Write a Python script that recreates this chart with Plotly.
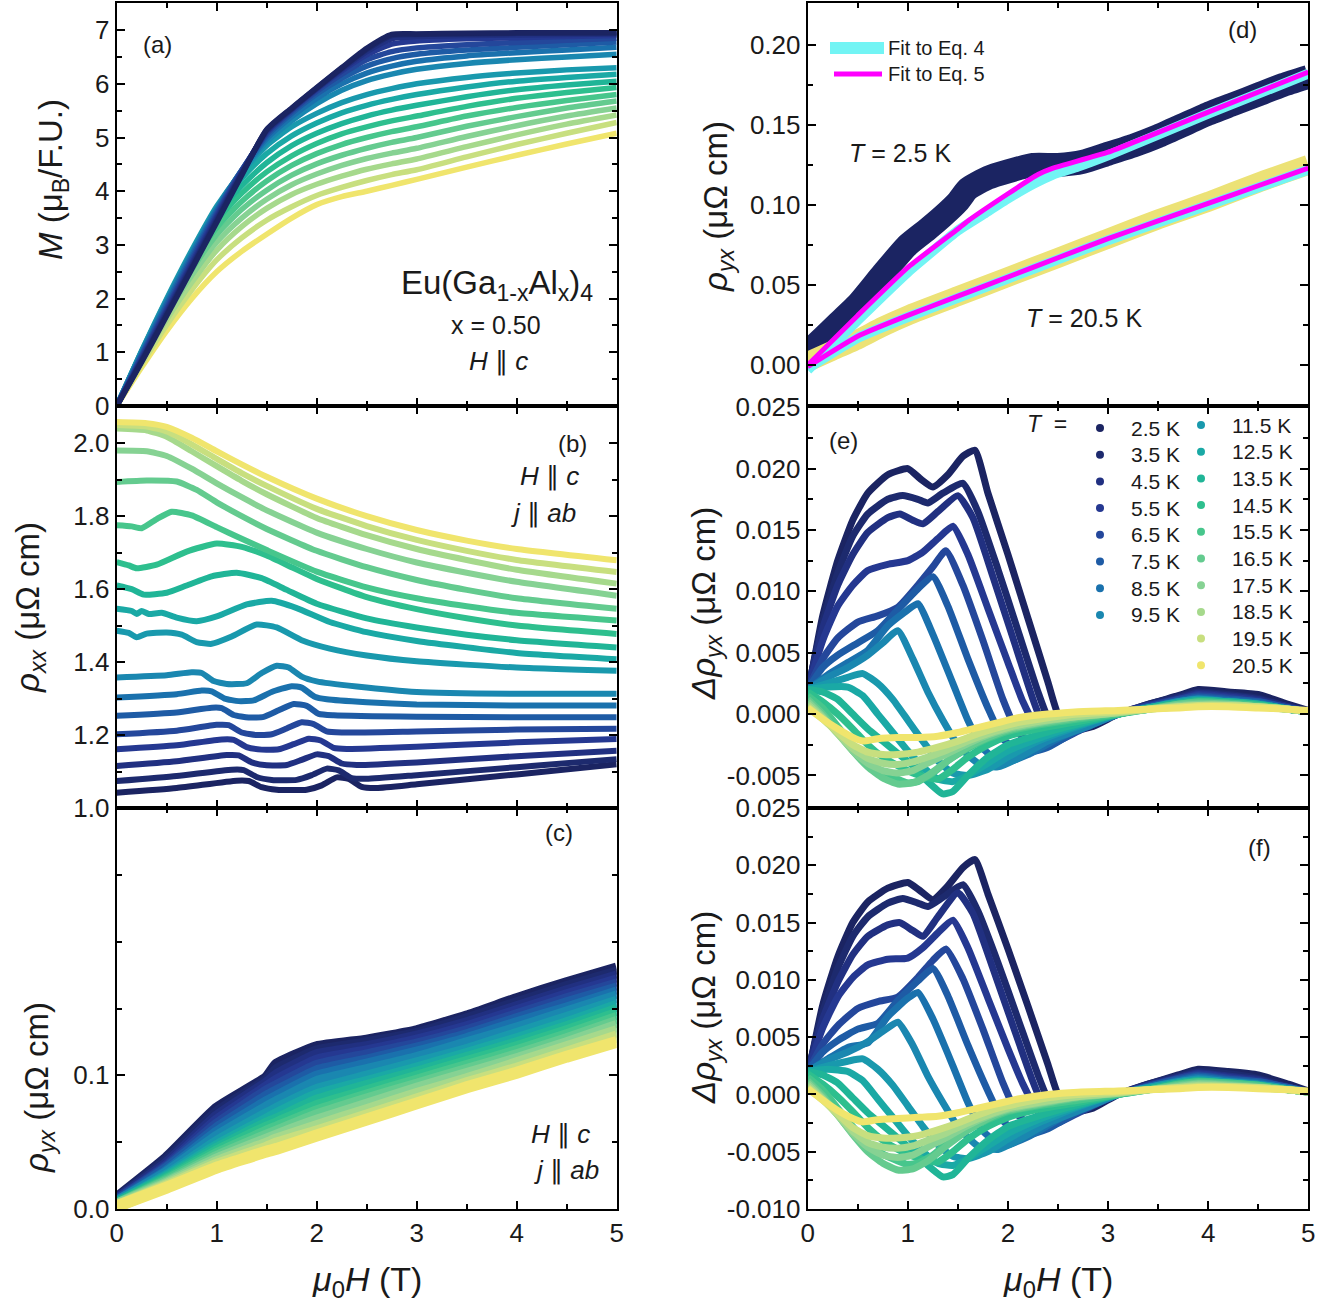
import plotly.graph_objects as go

W, H = 1337, 1304
FONT = "Arial, 'Liberation Sans', sans-serif"

TEMPS = [2.5, 3.5, 4.5, 5.5, 6.5, 7.5, 8.5, 9.5, 11.5, 12.5, 13.5, 14.5, 15.5, 16.5, 17.5, 18.5, 19.5, 20.5]
COLORS = ["#1b2462", "#1d2a6e", "#213081", "#253891", "#24479b", "#1e5ba5", "#1a71ad", "#1a87b0",
          "#1999ad", "#1aa9a5", "#20b597", "#2ebf8e", "#47c68c", "#64cb8f", "#86d293", "#a6d98c",
          "#c8df7f", "#f0e56d"]

# ---------------- (a) magnetization ----------------
H_M = [0, 0.25, 0.5, 0.75, 1.0, 1.25, 1.5, 1.75, 2.0, 2.25, 2.5, 2.75, 3.0, 3.5, 4.0, 4.5, 5.0]
M_DATA = [
    [0, 0.82, 1.68, 2.55, 3.42, 4.30, 5.15, 5.55, 5.93, 6.30, 6.66, 6.92, 6.93, 6.94, 6.95, 6.95, 6.95],
    [0, 0.84, 1.71, 2.58, 3.45, 4.32, 5.14, 5.54, 5.92, 6.29, 6.64, 6.90, 6.92, 6.93, 6.94, 6.95, 6.95],
    [0, 0.86, 1.74, 2.62, 3.49, 4.34, 5.12, 5.53, 5.91, 6.27, 6.60, 6.84, 6.88, 6.90, 6.91, 6.92, 6.93],
    [0, 0.89, 1.78, 2.66, 3.53, 4.36, 5.10, 5.52, 5.90, 6.24, 6.54, 6.74, 6.80, 6.84, 6.86, 6.88, 6.90],
    [0, 0.92, 1.82, 2.71, 3.57, 4.38, 5.07, 5.49, 5.86, 6.18, 6.45, 6.60, 6.67, 6.73, 6.77, 6.81, 6.85],
    [0, 0.95, 1.87, 2.76, 3.61, 4.39, 5.03, 5.45, 5.81, 6.10, 6.33, 6.47, 6.55, 6.63, 6.68, 6.73, 6.78],
    [0, 0.98, 1.92, 2.81, 3.65, 4.39, 4.98, 5.39, 5.73, 6.00, 6.20, 6.33, 6.42, 6.52, 6.58, 6.63, 6.68],
    [0, 1.01, 1.96, 2.85, 3.68, 4.38, 4.92, 5.31, 5.63, 5.88, 6.06, 6.18, 6.27, 6.38, 6.45, 6.50, 6.55],
    [0, 1.03, 2.00, 2.90, 3.72, 4.35, 4.85, 5.20, 5.45, 5.65, 5.80, 5.91, 6.00, 6.12, 6.20, 6.26, 6.30],
    [0, 1.02, 1.98, 2.86, 3.66, 4.24, 4.70, 5.03, 5.27, 5.46, 5.60, 5.71, 5.80, 5.94, 6.05, 6.12, 6.18],
    [0, 1.00, 1.94, 2.80, 3.56, 4.10, 4.53, 4.85, 5.08, 5.26, 5.40, 5.51, 5.60, 5.76, 5.89, 5.98, 6.05],
    [0, 0.98, 1.90, 2.73, 3.45, 3.96, 4.36, 4.66, 4.89, 5.07, 5.20, 5.31, 5.40, 5.58, 5.73, 5.84, 5.93],
    [0, 0.95, 1.84, 2.64, 3.32, 3.81, 4.19, 4.48, 4.70, 4.87, 5.00, 5.11, 5.20, 5.40, 5.56, 5.69, 5.80],
    [0, 0.92, 1.78, 2.54, 3.19, 3.66, 4.02, 4.30, 4.51, 4.67, 4.80, 4.91, 5.00, 5.21, 5.39, 5.55, 5.68],
    [0, 0.88, 1.70, 2.43, 3.05, 3.50, 3.85, 4.12, 4.32, 4.48, 4.61, 4.71, 4.80, 5.02, 5.22, 5.40, 5.55],
    [0, 0.83, 1.61, 2.30, 2.90, 3.34, 3.68, 3.94, 4.13, 4.28, 4.41, 4.51, 4.60, 4.83, 5.05, 5.25, 5.42],
    [0, 0.78, 1.51, 2.16, 2.72, 3.13, 3.46, 3.71, 3.92, 4.07, 4.20, 4.31, 4.40, 4.64, 4.87, 5.08, 5.28],
    [0, 0.72, 1.40, 2.00, 2.50, 2.88, 3.20, 3.50, 3.75, 3.90, 4.00, 4.11, 4.22, 4.45, 4.67, 4.88, 5.08],
]

# ---------------- (b) rho_xx ----------------
B_H = [
    [0, 0.6, 1.2, 1.32, 1.45, 1.6, 1.9, 2.05, 2.2, 2.32, 2.45, 2.6, 3.0, 4.0, 5.0],
    [0, 0.6, 1.15, 1.27, 1.4, 1.55, 1.8, 1.95, 2.1, 2.22, 2.35, 2.5, 3.0, 4.0, 5.0],
    [0, 0.6, 1.1, 1.22, 1.35, 1.5, 1.7, 1.85, 2.0, 2.12, 2.25, 2.4, 3.0, 4.0, 5.0],
    [0, 0.6, 1.05, 1.17, 1.3, 1.45, 1.62, 1.77, 1.92, 2.04, 2.17, 2.3, 3.0, 4.0, 5.0],
    [0, 0.6, 1.0, 1.12, 1.25, 1.4, 1.55, 1.7, 1.85, 1.97, 2.1, 2.25, 3.0, 4.0, 5.0],
    [0, 0.6, 0.95, 1.05, 1.17, 1.32, 1.47, 1.62, 1.77, 1.9, 2.02, 2.17, 3.0, 4.0, 5.0],
    [0, 0.6, 0.85, 0.95, 1.08, 1.22, 1.37, 1.55, 1.75, 1.85, 1.98, 2.1, 2.5, 3.0, 4.0, 5.0],
    [0, 0.5, 0.75, 0.85, 0.97, 1.1, 1.3, 1.45, 1.6, 1.72, 1.85, 2.0, 2.4, 3.0, 4.0, 5.0],
    [0, 0.12, 0.2, 0.3, 0.5, 0.65, 0.8, 0.95, 1.15, 1.4, 1.6, 1.85, 2.13, 2.5, 3.0, 4.0, 5.0],
    [0, 0.15, 0.2, 0.25, 0.32, 0.45, 0.6, 0.8, 1.0, 1.3, 1.55, 1.8, 2.13, 2.5, 3.0, 4.0, 5.0],
    [0, 0.15, 0.27, 0.5, 0.7, 0.95, 1.2, 1.45, 1.7, 2.0, 2.5, 3.0, 3.5, 4.0, 5.0],
    [0, 0.12, 0.2, 0.4, 0.7, 1.0, 1.25, 1.5, 1.75, 2.0, 2.5, 3.0, 3.5, 4.0, 5.0],
    [0, 0.15, 0.25, 0.4, 0.55, 0.75, 1.0, 1.25, 1.5, 2.0, 2.5, 3.0, 3.5, 4.0, 5.0],
    [0, 0.3, 0.6, 0.8, 1.0, 1.25, 1.5, 2.0, 2.5, 3.0, 3.5, 4.0, 5.0],
    [0, 0.3, 0.5, 0.75, 1.0, 1.25, 1.5, 2.0, 2.5, 3.0, 3.5, 4.0, 5.0],
    [0, 0.3, 0.5, 0.75, 1.0, 1.25, 1.5, 2.0, 2.5, 3.0, 3.5, 4.0, 5.0],
    [0, 0.3, 0.5, 0.75, 1.0, 1.25, 1.5, 2.0, 2.5, 3.0, 3.5, 4.0, 5.0],
    [0, 0.3, 0.5, 0.75, 1.0, 1.25, 1.5, 2.0, 2.5, 3.0, 3.5, 4.0, 5.0],
]
B_R = [
    [1.042, 1.055, 1.075, 1.074, 1.057, 1.050, 1.050, 1.062, 1.084, 1.080, 1.058, 1.055, 1.065, 1.092, 1.120],
    [1.074, 1.088, 1.105, 1.104, 1.085, 1.077, 1.077, 1.090, 1.108, 1.103, 1.082, 1.080, 1.090, 1.112, 1.134],
    [1.115, 1.128, 1.145, 1.144, 1.125, 1.117, 1.118, 1.132, 1.147, 1.142, 1.122, 1.118, 1.125, 1.142, 1.157],
    [1.161, 1.172, 1.188, 1.187, 1.167, 1.160, 1.161, 1.175, 1.190, 1.185, 1.165, 1.162, 1.168, 1.180, 1.189],
    [1.202, 1.212, 1.228, 1.227, 1.207, 1.200, 1.202, 1.218, 1.235, 1.230, 1.210, 1.207, 1.210, 1.215, 1.217],
    [1.253, 1.262, 1.275, 1.274, 1.255, 1.248, 1.250, 1.268, 1.285, 1.280, 1.258, 1.254, 1.250, 1.249, 1.249],
    [1.303, 1.312, 1.322, 1.320, 1.300, 1.293, 1.295, 1.318, 1.334, 1.330, 1.305, 1.298, 1.290, 1.284, 1.281, 1.281],
    [1.358, 1.364, 1.372, 1.370, 1.348, 1.340, 1.342, 1.370, 1.390, 1.385, 1.360, 1.347, 1.333, 1.318, 1.313, 1.313],
    [1.486, 1.480, 1.468, 1.478, 1.481, 1.475, 1.455, 1.450, 1.470, 1.503, 1.495, 1.460, 1.437, 1.418, 1.402, 1.385, 1.376],
    [1.546, 1.540, 1.532, 1.540, 1.532, 1.535, 1.522, 1.512, 1.525, 1.558, 1.568, 1.548, 1.510, 1.482, 1.458, 1.425, 1.408],
    [1.610, 1.600, 1.585, 1.590, 1.610, 1.635, 1.645, 1.630, 1.598, 1.560, 1.520, 1.495, 1.475, 1.460, 1.440],
    [1.674, 1.665, 1.657, 1.667, 1.703, 1.725, 1.716, 1.692, 1.660, 1.628, 1.578, 1.545, 1.520, 1.500, 1.477],
    [1.775, 1.772, 1.767, 1.792, 1.812, 1.802, 1.770, 1.738, 1.707, 1.648, 1.605, 1.575, 1.553, 1.535, 1.514],
    [1.894, 1.898, 1.895, 1.872, 1.838, 1.800, 1.765, 1.705, 1.660, 1.625, 1.598, 1.575, 1.546],
    [1.980, 1.978, 1.965, 1.930, 1.890, 1.852, 1.816, 1.755, 1.710, 1.673, 1.645, 1.620, 1.582],
    [2.040, 2.035, 2.018, 1.978, 1.937, 1.897, 1.860, 1.795, 1.748, 1.710, 1.680, 1.653, 1.615],
    [2.050, 2.046, 2.032, 1.997, 1.957, 1.918, 1.883, 1.820, 1.773, 1.735, 1.705, 1.680, 1.647],
    [2.058, 2.055, 2.045, 2.015, 1.978, 1.942, 1.908, 1.848, 1.800, 1.762, 1.733, 1.710, 1.679],
]

# ---------------- (c) rho_yx, all temperatures ----------------
H_C = [0, 0.5, 1.0, 1.5, 1.6, 2.0, 2.5, 3.0, 3.5, 4.0, 4.5, 5.0]
C_DATA = [
    [0.008, 0.038, 0.075, 0.098, 0.108, 0.121, 0.126, 0.133, 0.144, 0.157, 0.169, 0.180],
    [0.007, 0.036, 0.072, 0.096, 0.104, 0.118, 0.124, 0.131, 0.142, 0.154, 0.166, 0.177],
    [0.007, 0.034, 0.069, 0.094, 0.100, 0.115, 0.121, 0.129, 0.139, 0.151, 0.163, 0.174],
    [0.006, 0.032, 0.066, 0.091, 0.096, 0.111, 0.118, 0.126, 0.136, 0.148, 0.160, 0.171],
    [0.006, 0.031, 0.063, 0.088, 0.092, 0.107, 0.115, 0.123, 0.133, 0.145, 0.157, 0.168],
    [0.005, 0.030, 0.060, 0.084, 0.088, 0.103, 0.111, 0.120, 0.130, 0.142, 0.154, 0.165],
    [0.005, 0.028, 0.057, 0.080, 0.084, 0.099, 0.108, 0.117, 0.127, 0.139, 0.150, 0.162],
    [0.005, 0.027, 0.054, 0.076, 0.080, 0.095, 0.104, 0.113, 0.124, 0.135, 0.147, 0.159],
    [0.004, 0.025, 0.050, 0.071, 0.075, 0.089, 0.099, 0.109, 0.119, 0.131, 0.143, 0.155],
    [0.004, 0.024, 0.047, 0.067, 0.071, 0.085, 0.095, 0.105, 0.116, 0.127, 0.139, 0.152],
    [0.004, 0.023, 0.045, 0.064, 0.067, 0.081, 0.092, 0.102, 0.113, 0.124, 0.136, 0.149],
    [0.003, 0.022, 0.043, 0.061, 0.064, 0.077, 0.088, 0.099, 0.110, 0.121, 0.133, 0.146],
    [0.003, 0.021, 0.041, 0.058, 0.061, 0.073, 0.085, 0.096, 0.107, 0.118, 0.130, 0.143],
    [0.003, 0.020, 0.039, 0.055, 0.058, 0.070, 0.082, 0.093, 0.104, 0.115, 0.127, 0.140],
    [0.003, 0.019, 0.037, 0.052, 0.055, 0.066, 0.078, 0.090, 0.101, 0.112, 0.124, 0.137],
    [0.002, 0.018, 0.035, 0.049, 0.052, 0.062, 0.074, 0.086, 0.097, 0.109, 0.121, 0.133],
    [0.002, 0.017, 0.033, 0.046, 0.049, 0.058, 0.070, 0.082, 0.094, 0.105, 0.117, 0.129],
    [0.002, 0.016, 0.031, 0.043, 0.045, 0.055, 0.067, 0.079, 0.091, 0.102, 0.114, 0.125],
]

# ---------------- (d) rho_yx at 2.5 K and 20.5 K with fits ----------------
D_H_LOW = [0, 0.15, 0.3, 0.5, 0.75, 1.0, 1.2, 1.35, 1.5, 1.6, 1.8, 2.0, 2.25, 2.5, 2.75, 3.0, 3.25, 3.5, 3.75, 4.0, 4.25, 4.5, 4.75, 5.0]
D_R_LOW = [0.008, 0.017, 0.026, 0.038, 0.057, 0.075, 0.085, 0.093, 0.102, 0.110, 0.117, 0.121, 0.125, 0.125, 0.127, 0.132, 0.137, 0.143, 0.150, 0.157, 0.163, 0.169, 0.175, 0.180]
D_H_HIGH = [0, 0.25, 0.5, 0.75, 1.0, 1.5, 2.0, 2.5, 3.0, 3.5, 4.0, 4.5, 5.0]
D_R_HIGH = [0.002, 0.009, 0.016, 0.024, 0.031, 0.043, 0.055, 0.067, 0.079, 0.091, 0.102, 0.114, 0.125]
FIT4_H_LOW = [0, 0.5, 1.0, 1.5, 1.75, 2.0, 2.25, 2.45, 2.7, 3.0, 4.0, 5.0]
FIT4_R_LOW = [-0.003, 0.028, 0.058, 0.084, 0.094, 0.104, 0.113, 0.119, 0.124, 0.131, 0.157, 0.182]
FIT5_H_LOW = [0, 0.5, 1.0, 1.5, 1.6, 2.0, 2.3, 2.45, 3.0, 4.0, 5.0]
FIT5_R_LOW = [0.0, 0.031, 0.061, 0.085, 0.090, 0.107, 0.119, 0.123, 0.133, 0.158, 0.183]
FIT_H_HIGH = [0, 0.5, 1.0, 1.5, 2.0, 2.5, 3.0, 3.5, 4.0, 4.5, 5.0]
FIT4_R_HIGH = [-0.002, 0.017, 0.030, 0.042, 0.054, 0.066, 0.078, 0.089, 0.100, 0.111, 0.122]
FIT5_R_HIGH = [-0.001, 0.018, 0.031, 0.043, 0.055, 0.067, 0.079, 0.090, 0.101, 0.112, 0.123]

# ---------------- (e)/(f) delta rho_yx ----------------
E_H = [
    [0, 0.15, 0.3, 0.45, 0.6, 0.8, 1.0, 1.12, 1.25, 1.4, 1.55, 1.67, 1.8, 2.0, 2.2, 2.4, 2.5, 2.65, 2.85, 3.1, 3.4, 3.7, 3.9, 4.2, 4.5, 4.8, 5.0],
    [0, 0.15, 0.3, 0.45, 0.6, 0.8, 0.95, 1.1, 1.2, 1.35, 1.55, 1.7, 1.9, 2.1, 2.3, 2.4, 2.55, 2.8, 3.1, 3.4, 3.7, 3.9, 4.2, 4.5, 4.8, 5.0],
    [0, 0.15, 0.3, 0.45, 0.6, 0.8, 0.92, 1.05, 1.15, 1.3, 1.5, 1.65, 1.85, 2.05, 2.25, 2.35, 2.5, 2.75, 3.1, 3.4, 3.7, 3.9, 4.2, 4.5, 4.8, 5.0],
    [0, 0.15, 0.3, 0.45, 0.6, 0.8, 1.0, 1.15, 1.3, 1.45, 1.6, 1.8, 2.0, 2.15, 2.3, 2.45, 2.7, 3.1, 3.4, 3.7, 3.9, 4.2, 4.5, 4.8, 5.0],
    [0, 0.15, 0.3, 0.5, 0.7, 0.9, 1.1, 1.25, 1.38, 1.55, 1.75, 1.95, 2.1, 2.3, 2.5, 2.75, 3.1, 3.4, 3.7, 3.9, 4.2, 4.5, 4.8, 5.0],
    [0, 0.15, 0.3, 0.5, 0.7, 0.9, 1.1, 1.25, 1.4, 1.6, 1.8, 1.95, 2.15, 2.4, 2.7, 3.1, 3.4, 3.7, 3.9, 4.2, 4.5, 4.8, 5.0],
    [0, 0.2, 0.4, 0.6, 0.8, 1.0, 1.1, 1.25, 1.45, 1.6, 1.75, 1.95, 2.2, 2.5, 2.8, 3.1, 3.4, 3.7, 3.9, 4.2, 4.5, 4.8, 5.0],
    [0, 0.2, 0.4, 0.6, 0.75, 0.9, 1.05, 1.2, 1.35, 1.5, 1.7, 1.9, 2.1, 2.4, 2.8, 3.1, 3.4, 3.7, 3.9, 4.2, 4.5, 4.8, 5.0],
    [0, 0.2, 0.4, 0.55, 0.7, 0.85, 1.0, 1.15, 1.3, 1.45, 1.6, 1.8, 2.0, 2.3, 2.7, 3.1, 3.4, 3.7, 3.9, 4.2, 4.5, 4.8, 5.0],
    [0, 0.2, 0.4, 0.55, 0.7, 0.85, 1.0, 1.15, 1.3, 1.45, 1.6, 1.8, 2.0, 2.3, 2.7, 3.1, 3.4, 3.7, 3.9, 4.2, 4.5, 4.8, 5.0],
    [0, 0.15, 0.3, 0.45, 0.6, 0.75, 0.9, 1.05, 1.2, 1.35, 1.45, 1.6, 1.8, 2.0, 2.3, 2.7, 3.1, 3.4, 3.7, 3.9, 4.2, 4.5, 4.8, 5.0],
    [0, 0.15, 0.3, 0.45, 0.6, 0.75, 0.9, 1.05, 1.2, 1.3, 1.45, 1.6, 1.8, 2.0, 2.3, 2.7, 3.1, 3.4, 3.7, 3.9, 4.2, 4.5, 4.8, 5.0],
    [0, 0.15, 0.3, 0.45, 0.6, 0.75, 0.9, 1.0, 1.1, 1.25, 1.4, 1.6, 1.8, 2.0, 2.3, 2.7, 3.1, 3.4, 3.7, 3.9, 4.2, 4.5, 4.8, 5.0],
    [0, 0.15, 0.3, 0.45, 0.6, 0.75, 0.9, 1.05, 1.2, 1.4, 1.6, 1.8, 2.0, 2.3, 2.7, 3.1, 3.4, 3.7, 3.9, 4.2, 4.5, 4.8, 5.0],
    [0, 0.15, 0.3, 0.45, 0.6, 0.75, 0.9, 1.05, 1.2, 1.4, 1.6, 1.8, 2.0, 2.3, 2.7, 3.1, 3.4, 3.7, 3.9, 4.2, 4.5, 4.8, 5.0],
    [0, 0.15, 0.3, 0.45, 0.6, 0.75, 0.9, 1.05, 1.2, 1.4, 1.6, 1.8, 2.0, 2.3, 2.7, 3.1, 3.4, 3.7, 3.9, 4.2, 4.5, 4.8, 5.0],
    [0, 0.15, 0.3, 0.45, 0.6, 0.75, 0.9, 1.1, 1.3, 1.5, 1.7, 1.9, 2.1, 2.4, 2.7, 3.1, 3.4, 3.7, 3.9, 4.2, 4.5, 4.8, 5.0],
    [0, 0.15, 0.3, 0.45, 0.55, 0.7, 0.9, 1.1, 1.3, 1.5, 1.7, 1.9, 2.1, 2.4, 2.7, 3.1, 3.4, 3.7, 3.9, 4.2, 4.5, 4.8, 5.0],
]
E_D = [
    [0.0015, 0.008, 0.0125, 0.0158, 0.018, 0.0195, 0.0200, 0.0192, 0.0185, 0.0195, 0.021, 0.0215, 0.018, 0.013, 0.0078, 0.0026, 0.0, -0.0013, -0.001, 0.0, 0.0008, 0.0015, 0.002, 0.0018, 0.0016, 0.0008, 0.0003],
    [0.0018, 0.0075, 0.0115, 0.0145, 0.0163, 0.0175, 0.0178, 0.0175, 0.0172, 0.018, 0.0188, 0.0165, 0.0118, 0.0068, 0.0018, -0.0003, -0.0015, -0.0009, 0.0, 0.0008, 0.0014, 0.0018, 0.0016, 0.0013, 0.0006, 0.0002],
    [0.002, 0.007, 0.0105, 0.013, 0.0148, 0.016, 0.0163, 0.0158, 0.0155, 0.0165, 0.0178, 0.016, 0.0112, 0.0062, 0.0012, -0.0008, -0.0017, -0.001, 0.0, 0.0007, 0.0013, 0.0017, 0.0015, 0.0012, 0.0006, 0.0002],
    [0.002, 0.006, 0.0088, 0.0105, 0.0117, 0.0122, 0.0125, 0.0132, 0.0143, 0.0153, 0.013, 0.0086, 0.0042, 0.001, -0.0013, -0.002, -0.0013, 0.0, 0.0007, 0.0012, 0.0016, 0.0014, 0.0011, 0.0005, 0.0002],
    [0.002, 0.0045, 0.0062, 0.0075, 0.008, 0.0087, 0.0105, 0.012, 0.0133, 0.0105, 0.006, 0.0012, -0.0015, -0.0027, -0.0022, -0.0012, 0.0, 0.0006, 0.0012, 0.0015, 0.0013, 0.001, 0.0005, 0.0002],
    [0.002, 0.0038, 0.0048, 0.0058, 0.0068, 0.0085, 0.0102, 0.0112, 0.0088, 0.0045, 0.0005, -0.002, -0.0032, -0.0027, -0.0013, 0.0, 0.0006, 0.0011, 0.0014, 0.0012, 0.001, 0.0005, 0.0002],
    [0.002, 0.0032, 0.0042, 0.0052, 0.0072, 0.0085, 0.009, 0.0065, 0.0025, -0.0005, -0.0028, -0.004, -0.0033, -0.002, -0.0009, 0.0, 0.0005, 0.001, 0.0013, 0.0011, 0.0009, 0.0004, 0.0002],
    [0.002, 0.003, 0.0038, 0.0048, 0.0058, 0.0068, 0.0045, 0.0018, -0.0005, -0.0025, -0.004, -0.0043, -0.0036, -0.0022, -0.001, 0.0, 0.0005, 0.001, 0.0012, 0.001, 0.0008, 0.0004, 0.0002],
    [0.002, 0.0025, 0.003, 0.0033, 0.0025, 0.0012, -0.0005, -0.0022, -0.0038, -0.0048, -0.005, -0.0045, -0.0035, -0.0022, -0.001, 0.0, 0.0005, 0.001, 0.0012, 0.001, 0.0008, 0.0004, 0.0002],
    [0.002, 0.0022, 0.0022, 0.0015, 0.0, -0.0015, -0.003, -0.0043, -0.0053, -0.0055, -0.005, -0.004, -0.003, -0.002, -0.0009, 0.0, 0.0005, 0.0009, 0.0011, 0.001, 0.0008, 0.0004, 0.0002],
    [0.002, 0.0018, 0.0012, 0.0, -0.0012, -0.0022, -0.0032, -0.0042, -0.0055, -0.0065, -0.0063, -0.005, -0.0035, -0.0025, -0.0017, -0.0008, 0.0, 0.0005, 0.0009, 0.0011, 0.001, 0.0008, 0.0004, 0.0002],
    [0.0018, 0.001, 0.0, -0.0012, -0.0025, -0.0035, -0.0042, -0.0048, -0.0052, -0.0053, -0.0045, -0.0035, -0.0025, -0.0018, -0.0012, -0.0006, 0.0, 0.0004, 0.0008, 0.001, 0.0009, 0.0007, 0.0004, 0.0002],
    [0.0015, 0.0005, -0.001, -0.0025, -0.0038, -0.0047, -0.0053, -0.0056, -0.0055, -0.0048, -0.0038, -0.0028, -0.002, -0.0014, -0.0009, -0.0004, 0.0, 0.0004, 0.0008, 0.001, 0.0009, 0.0007, 0.0004, 0.0002],
    [0.0012, 0.0, -0.0015, -0.003, -0.0043, -0.0052, -0.0057, -0.0056, -0.005, -0.0038, -0.0027, -0.0019, -0.0013, -0.0008, -0.0003, 0.0001, 0.0004, 0.0008, 0.0009, 0.0008, 0.0006, 0.0004, 0.0002],
    [0.001, -0.0002, -0.0016, -0.003, -0.004, -0.0046, -0.0048, -0.0046, -0.004, -0.0032, -0.0024, -0.0017, -0.0012, -0.0007, -0.0002, 0.0001, 0.0004, 0.0007, 0.0008, 0.0008, 0.0006, 0.0004, 0.0002],
    [0.0008, -0.0003, -0.0016, -0.0028, -0.0036, -0.004, -0.0041, -0.0039, -0.0035, -0.0029, -0.0022, -0.0016, -0.0011, -0.0006, -0.0002, 0.0001, 0.0004, 0.0006, 0.0007, 0.0007, 0.0006, 0.0004, 0.0002],
    [0.0006, -0.0004, -0.0015, -0.0025, -0.0031, -0.0033, -0.0033, -0.0031, -0.0027, -0.0022, -0.0016, -0.0011, -0.0007, -0.0003, 0.0, 0.0002, 0.0004, 0.0006, 0.0007, 0.0007, 0.0006, 0.0004, 0.0002],
    [0.0005, -0.0004, -0.0012, -0.0019, -0.0022, -0.002, -0.0019, -0.0019, -0.0018, -0.0015, -0.0011, -0.0007, -0.0003, 0.0, 0.0002, 0.0003, 0.0004, 0.0005, 0.0006, 0.0006, 0.0005, 0.0004, 0.0003],
]
F_D = [
    [0.0015, 0.0078, 0.012, 0.015, 0.0168, 0.018, 0.0185, 0.0178, 0.017, 0.0182, 0.0198, 0.0205, 0.0175, 0.0127, 0.0077, 0.0026, 0.0, -0.0015, -0.0012, 0.0, 0.0009, 0.0017, 0.0022, 0.002, 0.0017, 0.0009, 0.0003],
    [0.0018, 0.0072, 0.011, 0.0138, 0.0155, 0.0167, 0.0171, 0.0167, 0.0164, 0.0172, 0.0183, 0.016, 0.0115, 0.0066, 0.0017, -0.0004, -0.0017, -0.001, 0.0, 0.0009, 0.0016, 0.002, 0.0018, 0.0014, 0.0007, 0.0002],
    [0.002, 0.0066, 0.0098, 0.0122, 0.0138, 0.0148, 0.015, 0.0143, 0.0138, 0.0155, 0.0176, 0.0158, 0.011, 0.006, 0.0011, -0.0009, -0.0019, -0.0011, 0.0, 0.0008, 0.0015, 0.0019, 0.0016, 0.0013, 0.0006, 0.0002],
    [0.002, 0.0058, 0.0085, 0.0102, 0.0113, 0.0118, 0.0119, 0.0128, 0.0141, 0.0152, 0.0128, 0.0084, 0.004, 0.0009, -0.0015, -0.0023, -0.0015, 0.0, 0.0008, 0.0014, 0.0018, 0.0015, 0.0012, 0.0006, 0.0002],
    [0.002, 0.0044, 0.006, 0.0075, 0.0081, 0.0085, 0.0102, 0.0117, 0.0127, 0.0101, 0.0057, 0.001, -0.0018, -0.003, -0.0025, -0.0014, 0.0, 0.0007, 0.0014, 0.0017, 0.0014, 0.0011, 0.0006, 0.0002],
    [0.002, 0.0037, 0.0047, 0.0057, 0.0062, 0.0082, 0.0099, 0.011, 0.0086, 0.0043, 0.0003, -0.0023, -0.0036, -0.003, -0.0015, 0.0, 0.0007, 0.0013, 0.0016, 0.0013, 0.0011, 0.0006, 0.0002],
    [0.002, 0.0031, 0.0041, 0.0045, 0.0068, 0.0084, 0.0089, 0.0066, 0.0025, -0.0007, -0.0032, -0.0045, -0.0037, -0.0022, -0.001, 0.0, 0.0006, 0.0012, 0.0015, 0.0012, 0.001, 0.0005, 0.0002],
    [0.002, 0.003, 0.0037, 0.0046, 0.0055, 0.0063, 0.0043, 0.0016, -0.0007, -0.0028, -0.0045, -0.0048, -0.004, -0.0025, -0.0011, 0.0, 0.0006, 0.0011, 0.0014, 0.0011, 0.0009, 0.0005, 0.0002],
    [0.002, 0.0025, 0.0029, 0.0031, 0.0022, 0.0008, -0.001, -0.0028, -0.0044, -0.0054, -0.0056, -0.005, -0.0039, -0.0025, -0.0011, 0.0, 0.0006, 0.0011, 0.0013, 0.0011, 0.0009, 0.0005, 0.0002],
    [0.002, 0.0022, 0.002, 0.0012, -0.0004, -0.002, -0.0036, -0.005, -0.006, -0.0062, -0.0056, -0.0045, -0.0034, -0.0022, -0.001, 0.0, 0.0005, 0.001, 0.0012, 0.001, 0.0008, 0.0004, 0.0002],
    [0.002, 0.0017, 0.001, -0.0003, -0.0016, -0.0027, -0.0038, -0.0049, -0.0062, -0.0072, -0.007, -0.0056, -0.004, -0.0028, -0.0019, -0.0009, 0.0, 0.0005, 0.001, 0.0012, 0.001, 0.0008, 0.0004, 0.0002],
    [0.0018, 0.0009, -0.0002, -0.0015, -0.0029, -0.004, -0.0048, -0.0054, -0.0058, -0.0059, -0.005, -0.0039, -0.0028, -0.002, -0.0013, -0.0007, 0.0, 0.0004, 0.0009, 0.0011, 0.001, 0.0008, 0.0004, 0.0002],
    [0.0015, 0.0004, -0.0012, -0.0028, -0.0042, -0.0052, -0.0058, -0.0061, -0.006, -0.0053, -0.0042, -0.0031, -0.0022, -0.0015, -0.001, -0.0005, 0.0, 0.0004, 0.0009, 0.0011, 0.001, 0.0008, 0.0004, 0.0002],
    [0.0012, -0.0001, -0.0018, -0.0035, -0.005, -0.006, -0.0066, -0.0065, -0.0058, -0.0044, -0.0031, -0.0021, -0.0014, -0.0009, -0.0003, 0.0001, 0.0004, 0.0008, 0.001, 0.0009, 0.0007, 0.0004, 0.0002],
    [0.001, -0.0003, -0.0018, -0.0034, -0.0046, -0.0053, -0.0055, -0.0053, -0.0046, -0.0037, -0.0027, -0.0019, -0.0013, -0.0008, -0.0002, 0.0001, 0.0004, 0.0007, 0.0009, 0.0008, 0.0006, 0.0004, 0.0002],
    [0.0008, -0.0004, -0.0018, -0.0032, -0.0042, -0.0046, -0.0047, -0.0045, -0.004, -0.0033, -0.0025, -0.0018, -0.0012, -0.0007, -0.0002, 0.0001, 0.0004, 0.0006, 0.0008, 0.0007, 0.0006, 0.0004, 0.0002],
    [0.0006, -0.0005, -0.0017, -0.0029, -0.0036, -0.0038, -0.0038, -0.0036, -0.0031, -0.0025, -0.0018, -0.0012, -0.0008, -0.0003, 0.0, 0.0002, 0.0004, 0.0006, 0.0007, 0.0007, 0.0006, 0.0004, 0.0002],
    [0.0005, -0.0005, -0.0014, -0.0021, -0.0024, -0.0022, -0.0021, -0.002, -0.0019, -0.0016, -0.0012, -0.0008, -0.0004, 0.0, 0.0002, 0.0003, 0.0004, 0.0005, 0.0006, 0.0006, 0.0005, 0.0004, 0.0003],
]

for hs, vs in zip(B_H, B_R):
    assert len(hs) == len(vs)
for hs, vs, ws in zip(E_H, E_D, F_D):
    assert len(hs) == len(vs) == len(ws)
assert len(D_H_LOW) == len(D_R_LOW)

# ---------------- figure ----------------
fig = go.Figure()


def line(x, y, color, width, ax, smooth=0.6):
    fig.add_trace(go.Scatter(
        x=x, y=y, mode="lines",
        line=dict(color=color, width=width, shape="spline", smoothing=smooth),
        xaxis="x" + ax, yaxis="y" + ax, showlegend=False, hoverinfo="skip"))


# (a): warm curves first, cold on top
for i in reversed(range(len(TEMPS))):
    line(H_M, M_DATA[i], COLORS[i], 5.5, "")
# (b)
for i in range(len(TEMPS)):
    line(B_H[i], B_R[i], COLORS[i], 6, "2", 0.5)
# (c)
for i in range(len(TEMPS)):
    line(H_C, C_DATA[i], COLORS[i], 12, "3", 0.4)
# (d)
line(D_H_LOW, D_R_LOW, COLORS[0], 24, "4", 0.5)
line(D_H_HIGH, D_R_HIGH, "#ece276", 20, "4", 0.5)
line(FIT4_H_LOW, FIT4_R_LOW, "#72f4f4", 10, "4", 0.4)
line(FIT_H_HIGH, FIT4_R_HIGH, "#72f4f4", 10, "4", 0.4)
line(FIT5_H_LOW, FIT5_R_LOW, "#ff00ff", 5, "4", 0.4)
line(FIT_H_HIGH, FIT5_R_HIGH, "#ff00ff", 5, "4", 0.4)
# (e), (f)
for i in range(len(TEMPS)):
    line(E_H[i], E_D[i], COLORS[i], 7, "5", 0.5)
for i in range(len(TEMPS)):
    line(E_H[i], F_D[i], COLORS[i], 7, "6", 0.5)


def fx(px):
    return px / W


def fy(py):
    return 1 - py / H


XL = [fx(116.7), fx(616.7)]
XR = [fx(807.7), fx(1308.3)]
ROW1 = [fy(406), fy(3.3)]
ROW2 = [fy(808), fy(406)]
ROW3 = [fy(1209), fy(808)]

TICKFONT = 26
base = dict(showline=True, linewidth=2, linecolor="black", mirror="allticks",
            ticks="inside", ticklen=8, tickwidth=2, tickcolor="black",
            showgrid=False, zeroline=False,
            tickfont=dict(family=FONT, size=TICKFONT, color="#1a1a1a"))


def xax(domain, anchor, labels):
    d = dict(base)
    d.update(domain=domain, anchor=anchor, range=[0, 5], tickmode="array",
             tickvals=[0, 1, 2, 3, 4, 5], ticktext=["0", "1", "2", "3", "4", "5"],
             showticklabels=labels,
             minor=dict(ticks="inside", ticklen=5, tickwidth=1.5, tickcolor="black",
                        tickmode="array", tickvals=[0.5, 1.5, 2.5, 3.5, 4.5]))
    return d


def yax(domain, anchor, rng, tv, tt, minor_vals):
    d = dict(base)
    d.update(domain=domain, anchor=anchor, range=rng, tickmode="array",
             tickvals=tv, ticktext=tt,
             minor=dict(ticks="inside", ticklen=5, tickwidth=1.5, tickcolor="black",
                        tickmode="array", tickvals=minor_vals))
    return d


e_ticks = [-0.005, 0.0, 0.005, 0.01, 0.015, 0.02, 0.025]
f_ticks = [-0.01, -0.005, 0.0, 0.005, 0.01, 0.015, 0.02, 0.025]

layout = dict(
    autosize=True, margin=dict(l=0, r=0, t=0, b=0, autoexpand=False),
    paper_bgcolor="white", plot_bgcolor="white",
    font=dict(family=FONT, color="#1a1a1a"),
    xaxis=xax(XL, "y", False),
    yaxis=yax(ROW1, "x", [0, 7.5], list(range(8)), [str(v) for v in range(8)],
              [0.5, 1.5, 2.5, 3.5, 4.5, 5.5, 6.5]),
    xaxis2=xax(XL, "y2", False),
    yaxis2=yax(ROW2, "x2", [1.0, 2.102], [1.0, 1.2, 1.4, 1.6, 1.8, 2.0],
               ["1.0", "1.2", "1.4", "1.6", "1.8", "2.0"], [1.1, 1.3, 1.5, 1.7, 1.9]),
    xaxis3=xax(XL, "y3", True),
    yaxis3=yax(ROW3, "x3", [0, 0.3], [0, 0.1], ["0.0", "0.1"], [0.05, 0.15, 0.2, 0.25]),
    xaxis4=xax(XR, "y4", False),
    yaxis4=yax(ROW1, "x4", [-0.0256, 0.226], [0, 0.05, 0.1, 0.15, 0.2],
               ["0.00", "0.05", "0.10", "0.15", "0.20"], [0.025, 0.075, 0.125, 0.175]),
    xaxis5=xax(XR, "y5", False),
    yaxis5=yax(ROW2, "x5", [-0.00765, 0.0251], e_ticks, ["%.3f" % v for v in e_ticks],
               [-0.0025, 0.0025, 0.0075, 0.0125, 0.0175, 0.0225]),
    xaxis6=xax(XR, "y6", True),
    yaxis6=yax(ROW3, "x6", [-0.010, 0.025], f_ticks, ["%.3f" % v for v in f_ticks],
               [-0.0075, -0.0025, 0.0025, 0.0075, 0.0125, 0.0175, 0.0225]),
)
fig.update_layout(**layout)

ann = []


def text(t, px, py, size, xanchor="center", angle=0):
    ann.append(dict(text=t, x=fx(px), y=fy(py), xref="paper", yref="paper",
                    xanchor=xanchor, yanchor="middle", showarrow=False, textangle=angle,
                    font=dict(family=FONT, size=size, color="#1a1a1a")))


TITLE = 33
text("<i>M</i> (μ<sub>B</sub>/F.U.)", 53, 180, TITLE, angle=-90)
text("<i>ρ<sub>xx</sub></i> (μΩ cm)", 30, 608, TITLE, angle=-90)
text("<i>ρ<sub>yx</sub></i> (μΩ cm)", 39, 1088, TITLE, angle=-90)
text("<i>ρ<sub>yx</sub></i> (μΩ cm)", 718, 207, TITLE, angle=-90)
text("<i>Δρ<sub>yx</sub></i> (μΩ cm)", 706, 604, TITLE, angle=-90)
text("<i>Δρ<sub>yx</sub></i> (μΩ cm)", 706, 1008, TITLE, angle=-90)
text("<i>μ</i><sub>0</sub><i>H</i> (T)", 367, 1281, 34)
text("<i>μ</i><sub>0</sub><i>H</i> (T)", 1058, 1281, 34)

LAB = 24
text("(a)", 157, 44, LAB)
text("Eu(Ga<sub>1-x</sub>Al<sub>x</sub>)<sub>4</sub>", 497, 285, 33)
text("x = 0.50", 496, 325, 25)
text("<i>H</i> ∥ <i>c</i>", 498, 361, 26)
text("(b)", 572, 443, LAB)
text("<i>H</i> ∥ <i>c</i>", 549, 476, 26)
text("<i>j</i> ∥ <i>ab</i>", 543, 513, 26)
text("(c)", 559, 832, LAB)
text("<i>H</i> ∥ <i>c</i>", 560, 1134, 26)
text("<i>j</i> ∥ <i>ab</i>", 566, 1170, 26)
text("(d)", 1242, 29, LAB)
text("<i>T</i> = 2.5 K", 900, 153, 25)
text("<i>T</i> = 20.5 K", 1084, 318, 25)
text("(e)", 843, 440, LAB)
text("(f)", 1259, 847, LAB)

# (d) fit legend
shapes = [
    dict(type="line", xref="paper", yref="paper", x0=fx(830), x1=fx(884), y0=fy(48), y1=fy(48),
         line=dict(color="#72f4f4", width=12)),
    dict(type="line", xref="paper", yref="paper", x0=fx(834), x1=fx(882), y0=fy(74), y1=fy(74),
         line=dict(color="#ff00ff", width=5)),
]
text("Fit to Eq. 4", 886, 48, 20, xanchor="left")
text("Fit to Eq. 5", 886, 74, 20, xanchor="left")

# (e) temperature legend
text("<i>T</i>  =", 1047, 424, 23)
STEP = 26.7
for i, T in enumerate(TEMPS):
    if i < 8:
        cx, cy, tx = 1100, 428 + STEP * i, 1129
    else:
        cx, cy, tx = 1201, 425 + STEP * (i - 8), 1230
    r = 4
    shapes.append(dict(type="circle", xref="paper", yref="paper",
                       x0=fx(cx - r), x1=fx(cx + r), y0=fy(cy + r), y1=fy(cy - r),
                       fillcolor=COLORS[i], line=dict(width=0)))
    text("%.1f K" % T, tx, cy, 21, xanchor="left")

fig.update_layout(annotations=ann, shapes=shapes)

fig.write_html(
    "out.html",
    config={"displayModeBar": False},
    default_width="%dpx" % W,
    default_height="%dpx;position:absolute;left:0;top:0" % H,
    post_script="document.body.style.margin='0';document.body.style.overflow='hidden';",
)
